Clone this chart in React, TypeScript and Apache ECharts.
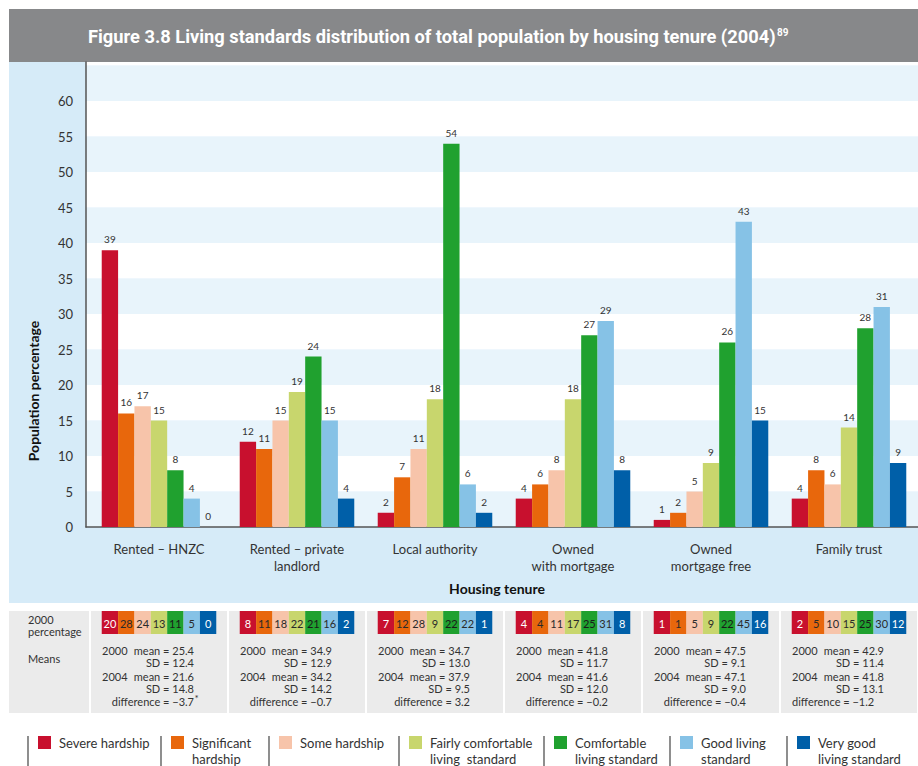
import React, { useEffect, useRef } from "react";
import * as echarts from "echarts";

// Housing tenure categories (x axis)
const categories = [
  "Rented – HNZC",
  "Rented – private\nlandlord",
  "Local authority",
  "Owned\nwith mortgage",
  "Owned\nmortgage free",
  "Family trust",
];

// Living standard levels (one bar series per level)
const levels = [
  "Severe hardship",
  "Significant hardship",
  "Some hardship",
  "Fairly comfortable living standard",
  "Comfortable living standard",
  "Good living standard",
  "Very good living standard",
];
const legendLabels = [
  "Severe hardship",
  "Significant\nhardship",
  "Some hardship",
  "Fairly comfortable\nliving  standard",
  "Comfortable\nliving standard",
  "Good living\nstandard",
  "Very good\nliving standard",
];

// 2004 population percentage, per level, across the tenure categories
const severe2004 = [39, 12, 2, 4, 1, 4];
const significant2004 = [16, 11, 7, 6, 2, 8];
const some2004 = [17, 15, 11, 8, 5, 6];
const fairly2004 = [15, 19, 18, 18, 9, 14];
const comfortable2004 = [8, 24, 54, 27, 26, 28];
const good2004 = [4, 15, 6, 29, 43, 31];
const veryGood2004 = [0, 4, 2, 8, 15, 9];
const values2004 = [severe2004, significant2004, some2004, fairly2004, comfortable2004, good2004, veryGood2004];

// 2000 population percentage, per level
const severe2000 = [20, 8, 7, 4, 1, 2];
const significant2000 = [28, 11, 12, 4, 1, 5];
const some2000 = [24, 18, 28, 11, 5, 10];
const fairly2000 = [13, 22, 9, 17, 9, 15];
const comfortable2000 = [11, 21, 22, 25, 22, 25];
const good2000 = [5, 16, 22, 31, 45, 30];
const veryGood2000 = [0, 2, 1, 8, 16, 12];
const values2000 = [severe2000, significant2000, some2000, fairly2000, comfortable2000, good2000, veryGood2000];

// Means table per tenure category
const mean2000 = [25.4, 34.9, 34.7, 41.8, 47.5, 42.9];
const sd2000 = [12.4, 12.9, 13.0, 11.7, 9.1, 11.4];
const mean2004 = [21.6, 34.2, 37.9, 41.6, 47.1, 41.8];
const sd2004 = [14.8, 14.2, 9.5, 12.0, 9.0, 13.1];
const difference = [-3.7, -0.7, 3.2, -0.2, -0.4, -1.2];
const significant = [true, false, false, false, false, false];

// Y axis ticks
const yMax = 65.5;
const yInterval = 5;
const yLabelMax = 60;

const titleText = "Figure 3.8 Living standards distribution of total population by housing tenure (2004)";
const titleNote = "89";

// Styling
const levelColors = ["#c8102e", "#e8670c", "#f7c4aa", "#c8d66d", "#20a12f", "#86c2e6", "#005fa8"];
const cellTextColors = ["#ffffff", "#2a2a2a", "#2a2a2a", "#2a2a2a", "#1a1a1a", "#2a2a2a", "#ffffff"];
const legendX = [28, 161, 269, 399, 544, 670, 787];
const FONT = 'Lato, "Open Sans", "DejaVu Sans", sans-serif';
const TITLE_FONT = 'Roboto, "Noto Sans", sans-serif';
const TITLE_LEFT = 88;
const TITLE_RIGHT = 776;
const CAT_GAP = 0.17;
const CELL_H = 23;

const fmt = (v: number) => (v < 0 ? "−" : "") + Math.abs(v).toFixed(1);

// width of the title at its nominal size, used to fit it into the bar
function measure(text: string, font: string): number {
  const ctx = document.createElement("canvas").getContext("2d");
  if (!ctx) return TITLE_RIGHT - TITLE_LEFT;
  ctx.font = font;
  return ctx.measureText(text).width || TITLE_RIGHT - TITLE_LEFT;
}

export default function App() {
  const ref = useRef<HTMLDivElement>(null);

  useEffect(() => {
    if (!ref.current) return;
    const chart = echarts.init(ref.current, null, { renderer: "svg" });

    const titleWidth = measure(titleText, `bold 18px ${TITLE_FONT}`);
    const titleScale = Math.max(0.7, Math.min(1.3, (TITLE_RIGHT - TITLE_LEFT) / titleWidth));

    const barSeries = levels.map((name, k) => ({
      name,
      type: "bar",
      xAxisIndex: 1,
      yAxisIndex: 1,
      barGap: "0%",
      barCategoryGap: `${CAT_GAP * 100}%`,
      itemStyle: { color: levelColors[k] },
      label: {
        show: true,
        position: "top",
        distance: 6,
        fontSize: 10,
        color: "#333",
        fontFamily: FONT,
      },
      data: values2004[k],
    }));

    // 2000 percentage cells, one row of coloured boxes under each category
    const cellSeries = levels.map((name, k) => ({
      name: name + " 2000",
      type: "custom",
      xAxisIndex: 2,
      yAxisIndex: 2,
      silent: true,
      encode: { x: 0, y: 1 },
      data: categories.map((_, i) => [i, 0, values2000[k][i]]),
      renderItem: (params: any, api: any) => {
        const center = api.coord([api.value(0), 0]);
        const band = api.size([1, 0])[0];
        const cw = (band * (1 - CAT_GAP)) / levels.length;
        const x = center[0] - (cw * levels.length) / 2 + k * cw;
        const top = params.coordSys.y;
        return {
          type: "group",
          children: [
            { type: "rect", shape: { x, y: top, width: cw, height: CELL_H }, style: { fill: levelColors[k] } },
            {
              type: "text",
              x: x + cw / 2,
              y: top + CELL_H / 2 + 1,
              style: {
                text: String(api.value(2)),
                fill: cellTextColors[k],
                align: "center",
                verticalAlign: "middle",
                fontSize: 11,
                fontFamily: FONT,
              },
            },
          ],
        };
      },
    }));

    // Means / SD block for each category
    const meansSeries = {
      type: "custom",
      xAxisIndex: 2,
      yAxisIndex: 2,
      silent: true,
      encode: { x: 0, y: 1 },
      data: categories.map((_, i) => [i, 0]),
      renderItem: (params: any, api: any) => {
        const i = api.value(0);
        const center = api.coord([i, 0]);
        const band = api.size([1, 0])[0];
        const left = center[0] - band / 2;
        const top = params.coordSys.y;
        const base = { fontSize: 11, fontFamily: FONT, fill: "#333", verticalAlign: "middle" };
        const t = (text: string, dx: number, dy: number, align: string) => ({
          type: "text",
          x: left + dx,
          y: top + dy,
          style: { ...base, text, align },
        });
        const rightX = 104;
        const diffText = `difference = ${fmt(difference[i])}`;
        const diffLeft = i === categories.length - 1;
        const children: any[] = [
          t("2000", 12, 39, "left"),
          t(`mean = ${mean2000[i].toFixed(1)}`, rightX, 39, "right"),
          t(`SD = ${sd2000[i].toFixed(1)}`, rightX, 51.5, "right"),
          t("2004", 12, 65, "left"),
          t(`mean = ${mean2004[i].toFixed(1)}`, rightX, 65, "right"),
          t(`SD = ${sd2004[i].toFixed(1)}`, rightX, 77.5, "right"),
          diffLeft ? t(diffText, 12, 90, "left") : t(diffText, rightX, 90, "right"),
        ];
        if (significant[i]) {
          children.push({
            type: "text",
            x: left + rightX + 0.5,
            y: top + 87,
            style: { ...base, text: "*", align: "left", fontSize: 10 },
          });
        }
        return { type: "group", children };
      },
    };

    const graphics: any[] = [
      // title bar
      { type: "rect", z: -10, shape: { x: 9, y: 9, width: 909, height: 53 }, style: { fill: "#87888a" } },
      {
        type: "text",
        x: TITLE_LEFT,
        y: 37,
        scaleX: titleScale,
        style: {
          text: titleText,
          fontSize: 18,
          fontWeight: "bold",
          fill: "#ffffff",
          fontFamily: TITLE_FONT,
          verticalAlign: "middle",
        },
      },
      {
        type: "text",
        x: TITLE_RIGHT + 1,
        y: 32,
        style: {
          text: titleNote,
          fontSize: 10,
          fontWeight: "bold",
          fill: "#ffffff",
          fontFamily: TITLE_FONT,
          verticalAlign: "middle",
        },
      },
      // chart panel background
      { type: "rect", z: -10, shape: { x: 9, y: 62, width: 909, height: 541 }, style: { fill: "#d6ebf8" } },
      // table background
      { type: "rect", z: -10, shape: { x: 9, y: 611, width: 909, height: 102 }, style: { fill: "#ebebeb" } },
      { type: "text", x: 28, y: 619, style: { text: "2000", fontSize: 11, fill: "#333", fontFamily: FONT, verticalAlign: "middle" } },
      { type: "text", x: 28, y: 631, style: { text: "percentage", fontSize: 11, fill: "#333", fontFamily: FONT, verticalAlign: "middle" } },
      { type: "text", x: 28, y: 658, style: { text: "Means", fontSize: 11, fill: "#333", fontFamily: FONT, verticalAlign: "middle" } },
      // axis names
      {
        type: "text",
        x: 33,
        y: 391,
        rotation: Math.PI / 2,
        style: {
          text: "Population percentage",
          fontSize: 14,
          fontWeight: "bold",
          fill: "#111",
          fontFamily: FONT,
          align: "center",
          verticalAlign: "middle",
        },
      },
      {
        type: "text",
        x: 497,
        y: 588,
        style: {
          text: "Housing tenure",
          fontSize: 14,
          fontWeight: "bold",
          fill: "#111",
          fontFamily: FONT,
          align: "center",
          verticalAlign: "middle",
        },
      },
    ];

    // legend entries: separator, colour box, label
    levels.forEach((_, k) => {
      const lx = legendX[k];
      graphics.push(
        { type: "line", shape: { x1: lx, y1: 736, x2: lx, y2: 766 }, style: { stroke: "#444", lineWidth: 1.2 } },
        { type: "rect", shape: { x: lx + 10, y: 736, width: 13, height: 13 }, style: { fill: levelColors[k] } },
        {
          type: "text",
          x: lx + 31,
          y: 735,
          style: { text: legendLabels[k], fontSize: 13, lineHeight: 16, fill: "#333", fontFamily: FONT, verticalAlign: "top" },
        }
      );
    });

    chart.setOption({
      animation: false,
      backgroundColor: "#ffffff",
      textStyle: { fontFamily: FONT },
      grid: [
        { left: 86, right: 0, top: 62, bottom: 239 },
        { left: 90, right: -11, top: 62, bottom: 239 },
        { left: 90, right: -11, top: 611, height: 102 },
      ],
      xAxis: [
        {
          gridIndex: 0,
          type: "value",
          min: 0,
          max: 1,
          axisLine: { show: true, lineStyle: { color: "#555", width: 1.5 } },
          axisTick: { show: false },
          axisLabel: { show: false },
          splitLine: { show: false },
        },
        {
          gridIndex: 1,
          type: "category",
          data: categories,
          axisLine: { show: false },
          axisTick: { show: false },
          axisLabel: { margin: 13, fontSize: 13, lineHeight: 17, color: "#333", fontFamily: FONT },
        },
        {
          gridIndex: 2,
          type: "category",
          data: categories,
          axisLine: { show: false },
          axisTick: { show: false },
          axisLabel: { show: false },
          splitLine: { show: true, lineStyle: { color: "#ffffff", width: 2 } },
        },
      ],
      yAxis: [
        {
          gridIndex: 0,
          type: "value",
          min: 0,
          max: yMax,
          interval: yInterval,
          axisLine: { show: true, lineStyle: { color: "#555", width: 1.5 } },
          axisTick: { show: false },
          axisLabel: {
            margin: 13,
            fontSize: 13,
            color: "#333",
            fontFamily: FONT,
            formatter: (v: number) => (v <= yLabelMax ? String(v) : ""),
          },
          splitLine: { show: false },
          splitArea: { show: true, areaStyle: { color: ["#e8f4fb", "#ffffff"] } },
        },
        { gridIndex: 1, type: "value", min: 0, max: yMax, show: false },
        { gridIndex: 2, type: "value", min: 0, max: 1, show: false },
      ],
      graphic: graphics,
      series: [...barSeries, ...cellSeries, meansSeries],
    });

    return () => chart.dispose();
  }, []);

  return <div ref={ref} style={{ position: "fixed", left: 0, top: 0, width: 918, height: 766 }} />;
}
